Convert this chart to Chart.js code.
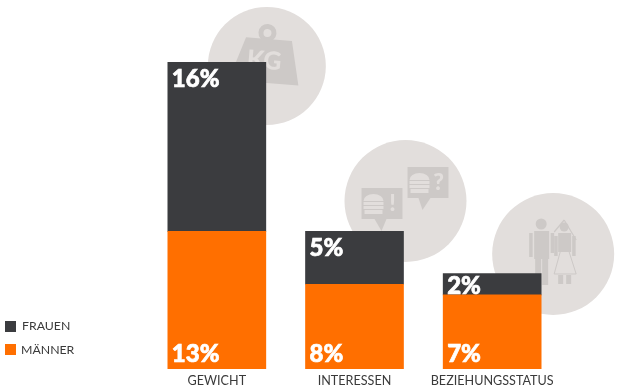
<!DOCTYPE html>
<html>

<head>
  <title>Chart</title>
  <meta charset="utf-8">
  <script src="https://cdn.jsdelivr.net/npm/chart.js@4/dist/chart.umd.js"></script>
  <style>
    html, body { margin: 0; padding: 0; background: #fff; }
  </style>
</head>

<body>
  <canvas id="chart" width="628" height="392"></canvas>

  <script>
    var categories = ["GEWICHT", "INTERESSEN", "BEZIEHUNGSSTATUS"];
    var frauen = [16, 5, 2];
    var maenner = [13, 8, 7];
    var yMax = 29;

    var DARK = "#3b3c3f";
    var ORANGE = "#ff6f00";
    var DISC = "#e2dedc";
    var ICON = "#cdc9c7";

    function disc(ctx, x, y, r, col) {
      ctx.fillStyle = col;
      ctx.beginPath();
      ctx.arc(x, y, r, 0, Math.PI * 2);
      ctx.fill();
    }

    function poly(ctx, pts, col) {
      ctx.fillStyle = col;
      ctx.beginPath();
      pts.forEach(function (p, i) {
        if (i == 0) ctx.moveTo(p[0], p[1]);
        else ctx.lineTo(p[0], p[1]);
      });
      ctx.closePath();
      ctx.fill();
    }

    // kettle weight, origin in the disc centre
    function weightIcon(ctx, cx, cy) {
      ctx.save();
      ctx.translate(cx, cy);
      ctx.rotate(0.08);
      ctx.strokeStyle = ICON;
      ctx.lineWidth = 5;
      ctx.beginPath();
      ctx.arc(-2, -33, 6.5, 0, Math.PI * 2);
      ctx.stroke();
      poly(ctx, [[-23, -27], [23, -27], [33, 17], [-37, 17]], ICON);
      ctx.fillStyle = DISC;
      ctx.font = "900 25px Lato";
      ctx.textAlign = "center";
      ctx.textBaseline = "middle";
      ctx.fillText("KG", -3, -5);
      ctx.restore();
    }

    function burger(ctx, x, y) {
      ctx.fillStyle = DISC;
      ctx.beginPath();
      ctx.ellipse(x + 10, y + 7, 10, 7, 0, Math.PI, 0);
      ctx.fill();
      ctx.fillRect(x, y + 8, 20, 3);
      ctx.fillRect(x, y + 12, 20, 3);
      ctx.fillRect(x + 1, y + 16, 18, 4);
    }

    function bubble(ctx, x, y, tail, tip, sign) {
      ctx.fillStyle = ICON;
      ctx.fillRect(x, y, 41, 31);
      poly(ctx, [[tail, y + 31], [tail + 12, y + 31], [tip, y + 43]], ICON);
      burger(ctx, x + 2, y + 6);
      ctx.fillStyle = DISC;
      ctx.font = "900 23px Lato";
      ctx.textAlign = "center";
      ctx.textBaseline = "middle";
      ctx.fillText(sign, x + 31, y + 16);
    }

    function bubblesIcon(ctx, cx, cy) {
      bubble(ctx, cx - 44, cy - 13, cx - 31, cx - 24, "!");
      bubble(ctx, cx + 2, cy - 34, cx + 13, cx + 17, "?");
    }

    function coupleIcon(ctx, cx, cy) {
      // groom
      disc(ctx, cx - 12, cy - 30, 5.5, ICON);
      ctx.fillStyle = ICON;
      ctx.fillRect(cx - 19, cy - 23, 15, 28);
      ctx.fillRect(cx - 24, cy - 21, 3.5, 24);
      ctx.fillRect(cx - 2.5, cy - 21, 3.5, 20);
      ctx.fillRect(cx - 18, cy + 4, 6, 27);
      ctx.fillRect(cx - 11, cy + 4, 6, 27);
      // bride
      disc(ctx, cx + 11, cy - 27, 4.5, ICON);
      ctx.strokeStyle = ICON;
      ctx.lineWidth = 1.2;
      ctx.beginPath();
      ctx.moveTo(cx + 11, cy - 34);
      ctx.lineTo(cx + 1, cy - 22);
      ctx.moveTo(cx + 11, cy - 34);
      ctx.lineTo(cx + 23, cy - 14);
      ctx.stroke();
      ctx.fillRect(cx + 5, cy - 21, 13, 19);
      ctx.fillRect(cx + 1, cy - 18, 3.5, 20);
      ctx.fillRect(cx + 19, cy - 18, 3.5, 20);
      ctx.lineWidth = 1;
      ctx.beginPath();
      ctx.moveTo(cx + 7, cy - 2);
      ctx.lineTo(cx + 1, cy + 20);
      ctx.lineTo(cx + 23, cy + 20);
      ctx.lineTo(cx + 16, cy - 2);
      ctx.stroke();
      ctx.fillStyle = ICON;
      ctx.fillRect(cx + 5, cy + 21, 5, 9);
      ctx.fillRect(cx + 13, cy + 21, 5, 9);
    }

    // discs hang off the category centres
    var discs = [
      { dx: 50, dy: 66, r: 59, icon: weightIcon },
      { dx: 51, dy: 201, r: 61, icon: bubblesIcon },
      { dx: 61, dy: 254, r: 61, icon: coupleIcon }
    ];

    var backdrop = {
      id: "backdrop",
      beforeDatasetsDraw: function (chart) {
        var ctx = chart.ctx;
        ctx.save();
        discs.forEach(function (d, i) {
          var x = chart.scales.x.getPixelForValue(i) + d.dx;
          disc(ctx, x, d.dy, d.r, DISC);
          d.icon(ctx, x, d.dy);
        });
        ctx.restore();
      }
    };

    var barLabels = {
      id: "barLabels",
      afterDatasetsDraw: function (chart) {
        var ctx = chart.ctx;
        ctx.save();
        ctx.fillStyle = "#fff";
        ctx.strokeStyle = "#fff";
        ctx.lineWidth = 0.7;
        ctx.font = "900 24px Lato";
        ctx.textAlign = "left";
        ctx.textBaseline = "alphabetic";
        chart.data.datasets.forEach(function (ds, k) {
          chart.getDatasetMeta(k).data.forEach(function (bar, i) {
            var left = bar.x - 45;
            // frauen sit at the top of their block, maenner at the bottom
            var y = k == 1 ? Math.min(bar.y + 25, bar.base - 1) : bar.base - 7;
            ctx.fillText(ds.data[i] + "%", left, y);
            ctx.strokeText(ds.data[i] + "%", left, y);
          });
        });
        ctx.restore();
      }
    };

    var sideLegend = {
      id: "sideLegend",
      afterDraw: function (chart) {
        var ctx = chart.ctx;
        ctx.save();
        ctx.font = "12.3px Lato";
        ctx.textBaseline = "middle";
        ctx.textAlign = "left";
        ctx.fillStyle = DARK;
        ctx.fillRect(5, 321, 11, 11);
        ctx.fillStyle = "#3a3a3a";
        ctx.fillText("FRAUEN", 22, 326.5);
        ctx.fillStyle = ORANGE;
        ctx.fillRect(5, 344, 11, 11);
        ctx.fillStyle = "#3a3a3a";
        ctx.fillText("MÄNNER", 21, 350);
        ctx.restore();
      }
    };

    new Chart(document.getElementById("chart"), {
      type: "bar",
      data: {
        labels: categories,
        datasets: [{
          label: "MÄNNER",
          data: maenner,
          backgroundColor: ORANGE,
          barThickness: 98
        }, {
          label: "FRAUEN",
          data: frauen,
          backgroundColor: DARK,
          barThickness: 98
        }]
      },
      options: {
        responsive: false,
        animation: false,
        layout: { padding: { left: 148, right: 67, top: 62, bottom: 0 } },
        plugins: {
          legend: { display: false },
          tooltip: { enabled: false }
        },
        scales: {
          x: {
            stacked: true,
            grid: { display: false, drawTicks: false },
            border: { display: false },
            ticks: {
              color: "#3a3a3a",
              font: { family: "Lato", size: 12.6 },
              maxRotation: 0,
              autoSkip: false,
              padding: 4
            }
          },
          y: {
            stacked: true,
            display: false,
            min: 0,
            max: yMax
          }
        }
      },
      plugins: [backdrop, barLabels, sideLegend]
    });
  </script>
</body>

</html>
